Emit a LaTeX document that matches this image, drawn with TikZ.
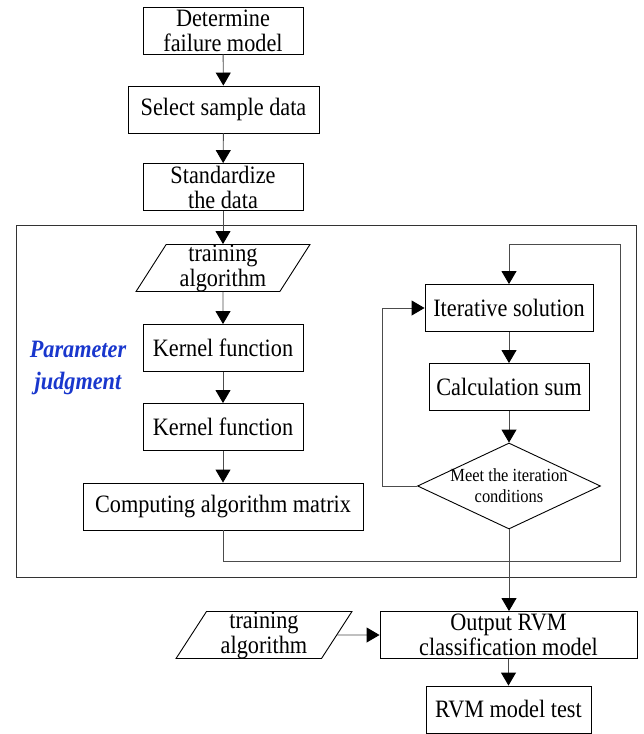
\documentclass[tikz,border=0pt]{standalone}
\usepackage{fontspec}
\setmainfont{Liberation Serif}[FakeStretch=0.89]
\usepackage{tikz}
\usetikzlibrary{arrows.meta, shapes.geometric}
\definecolor{judgeblue}{RGB}{25,55,205}

\begin{document}
\begin{tikzpicture}[x=1pt, y=-1pt,
    every node/.style={font=\fontsize{25}{25}\selectfont, align=center, inner sep=0pt},
    procbox/.style={draw=black, line width=0.9pt, rectangle, minimum height=47pt},
    databox/.style={draw=black, line width=0.9pt, trapezium, trapezium stretches=true,
        trapezium left angle=64, trapezium right angle=116, minimum height=47pt},
    condbox/.style={draw=black, line width=0.9pt, diamond, minimum width=183pt, minimum height=86pt},
    flow/.style={draw=black!70, line width=0.9pt, -{Triangle[length=13pt, width=15pt, color=black]}},
    wire/.style={draw=black!70, line width=0.9pt}]
    \useasboundingbox (0,0) rectangle (643,734);

    % outer frame
    \draw[black!80, line width=0.9pt] (16,225) rectangle (636,577);

    \node[procbox, minimum width=160pt] (det) at (223,30.5) {Determine\\failure model};
    \node[procbox, minimum width=191pt] (sel) at (223.5,109.5) {Select sample data};
    \node[procbox, minimum width=160pt] (std) at (223,187) {Standardize\\the data};

    \node[databox, minimum width=174pt] (train) at (223,268) {training\\algorithm};
    \node[procbox, minimum width=160pt] (kern1) at (223,348) {Kernel function};
    \node[procbox, minimum width=160pt] (kern2) at (223,427) {Kernel function};
    \node[procbox, minimum width=280pt] (comp) at (223,506.5) {Computing algorithm matrix};

    \node[font=\fontsize{25}{32}\selectfont\bfseries\itshape, text=judgeblue] (judge) at (78,368) {Parameter\\judgment};

    \node[procbox, minimum width=168pt] (iter) at (509,308) {Iterative solution};
    \node[procbox, minimum width=160pt] (calc) at (509,387) {Calculation sum};
    \node[condbox] (meet) at (509,486) {};
    \node[font=\fontsize{18.5}{21}\selectfont] (meettext) at (meet) {Meet the iteration\\conditions};

    \node[procbox, minimum width=257pt] (out) at (508.5,635) {Output RVM\\classification model};
    \node[databox, minimum width=176pt] (train2) at (264,635) {training\\algorithm};
    \node[procbox, minimum width=165pt] (test) at (508.5,709.5) {RVM model test};

    \coordinate (rbot) at (620,561);
    \coordinate (rtop) at (620,244);
    \coordinate (lbot) at (382,486);

    \draw[flow] (det) -- (sel);
    \draw[flow] (sel) -- (std);
    \draw[flow] (std) -- (train);
    \draw[flow] (train) -- (kern1);
    \draw[flow] (kern1) -- (kern2);
    \draw[flow] (kern2) -- (comp);
    \draw[flow] (comp.south) |- (rbot) -- (rtop) -| (iter.north);
    \draw[flow] (iter) -- (calc);
    \draw[flow] (calc) -- (meet.north);
    \draw[flow] (meet.west) -- (lbot) |- (iter.west);
    \draw[flow] (meet.south) -- (out.north -| meet.south);
    \draw[flow] (train2.east) -- (out.west);
    \draw[flow] (out) -- (test);
\end{tikzpicture}
\end{document}
